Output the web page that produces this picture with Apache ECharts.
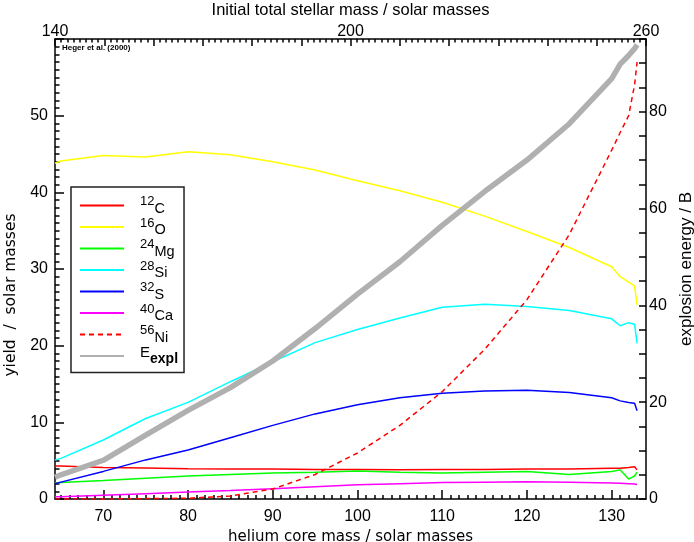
<!DOCTYPE html>
<html>
<head>
<meta charset="utf-8">
<script src="https://cdn.jsdelivr.net/npm/echarts@6/dist/echarts.min.js"></script>
<style>
html,body{margin:0;padding:0;background:#fff;}
#chart{width:694px;height:542px;}
</style>
</head>
<body>
<div id="chart"></div>
<script>
// ---- data ----
const heMass = [64.3, 65, 70, 75, 80, 85, 90, 95, 100, 105, 110, 115, 120, 125, 130, 131, 132, 132.7, 133];
const c12  = [4.3, 4.3, 4.1, 4.05, 3.95, 3.9, 3.9, 3.85, 3.85, 3.8, 3.85, 3.85, 3.9, 3.9, 4.0, 4.0, 4.1, 4.2, 3.8];
const o16  = [43.8, 44.1, 44.8, 44.6, 45.3, 44.9, 44.0, 42.9, 41.5, 40.2, 38.7, 36.9, 34.9, 32.8, 30.3, 29.0, 28.3, 27.8, 25.3];
const mg24 = [2.1, 2.15, 2.4, 2.7, 3.0, 3.2, 3.4, 3.5, 3.65, 3.5, 3.4, 3.5, 3.6, 3.2, 3.6, 3.8, 2.6, 3.0, 3.5];
const si28 = [5.1, 5.3, 7.7, 10.5, 12.6, 15.3, 17.9, 20.4, 22.1, 23.6, 25.0, 25.4, 25.1, 24.6, 23.5, 22.6, 23.0, 22.8, 20.3];
const s32  = [2.0, 2.2, 3.6, 5.1, 6.4, 8.0, 9.6, 11.1, 12.3, 13.2, 13.8, 14.1, 14.2, 13.9, 13.2, 12.8, 12.6, 12.5, 11.5];
const ca40 = [0.3, 0.3, 0.5, 0.7, 0.9, 1.1, 1.35, 1.6, 1.85, 2.0, 2.15, 2.2, 2.25, 2.2, 2.1, 2.05, 2.0, 1.95, 1.9];
const ni56 = [0, 0, 0, 0.05, 0.1, 0.4, 1.3, 3.2, 6.0, 9.6, 14.0, 19.5, 26.0, 34.5, 45.5, 47.8, 50.0, 54.0, 57.0];
const eExpl = [4.5, 5.0, 8.0, 13.2, 18.3, 23.0, 28.5, 35.2, 42.3, 49.0, 56.5, 63.5, 70.0, 77.5, 86.8, 89.8, 91.6, 93.0, 93.8];

const xMin = 64.3, xMax = 134.05;
const xMajor = [70, 80, 90, 100, 110, 120, 130];
const xMinor = [];
for (let v = 65; v <= 133; v++) { if (v % 10 !== 0) xMinor.push(v); }
const topLabels = [140, 200, 260];
const leftLabels = [0, 10, 20, 30, 40, 50];
const rightLabels = [0, 20, 40, 60, 80];

const legendSup = {'12C':['12','C'],'16O':['16','O'],'24Mg':['24','Mg'],'28Si':['28','Si'],'32S':['32','S'],'40Ca':['40','Ca'],'56Ni':['56','Ni']};

const FONT = 'Liberation Sans';
const ROUND = 'DejaVu Sans';
const blk = {color:'#000', width:1.5};

function pairs(arr){ return heMass.map((x,i)=>[x, arr[i]]); }
function mkLine(name, arr, color, opts){
  opts = opts || {};
  return {
    name: name, type:'line', xAxisIndex:0, yAxisIndex: opts.y || 0,
    data: pairs(arr), symbol:'none', showSymbol:false, animation:false,
    lineStyle:{color:color, width: opts.w || 1.5, type: opts.dash || 'solid'},
    itemStyle:{color:color}, z: opts.z || 2
  };
}

const chart = echarts.init(document.getElementById('chart'), null, {renderer:'canvas'});
chart.setOption({
  animation:false,
  backgroundColor:'#fff',
  textStyle:{fontFamily:FONT},
  grid:{left:55, right:48, top:39, bottom:43, containLabel:false, outerBoundsMode:'none'},
  legend:{
    orient:'vertical', left:71, top:187,
    backgroundColor:'#fff', borderColor:'#222', borderWidth:1.5,
    padding:[8,6,6,8], itemWidth:44, itemHeight:14, itemGap:0.5,
    itemStyle:{opacity:0},
    data:['12C','16O','24Mg','28Si','32S','40Ca','56Ni','E_expl'],
    formatter:function(name){
      if (name === 'E_expl') return '{sp|}{E|E}{sub|expl}';
      const p = legendSup[name];
      return '{sp|}{sup|' + p[0] + '}{el|' + p[1] + '}';
    },
    textStyle:{
      fontFamily:FONT, color:'#000',
      rich:{
        sp:{width:11, height:21},
        sup:{fontSize:13, fontFamily:FONT, color:'#000', verticalAlign:'top', lineHeight:13, padding:[0,0,8,0]},
        el:{fontSize:14.5, fontFamily:FONT, color:'#000', verticalAlign:'bottom', lineHeight:15, padding:[6,0,0,0]},
        E:{fontSize:15, fontFamily:FONT, color:'#000', verticalAlign:'top', lineHeight:15, padding:[0,0,6,0]},
        sub:{fontSize:14, fontFamily:FONT, color:'#000', fontWeight:'bold', verticalAlign:'bottom', lineHeight:14, padding:[7,0,0,0]}
      }
    }
  },
  xAxis:[
    {
      type:'value', position:'bottom', min:xMin, max:xMax,
      axisLine:{lineStyle:blk},
      axisTick:{inside:true, length:9, customValues:xMajor, lineStyle:blk},
      axisLabel:{customValues:xMajor, margin:10, fontSize:16, color:'#000', fontFamily:FONT,
        formatter:function(v){ return (Math.abs(v % 10) < 1e-6) ? String(v) : ''; }},
      splitLine:{show:false},
      name:'helium core mass / solar masses', nameLocation:'middle', nameGap:27,
      nameTextStyle:{fontSize:15, color:'#000', fontFamily:ROUND}
    },
    {
      type:'value', position:'bottom', min:xMin, max:xMax,
      axisLine:{show:false},
      axisTick:{inside:true, length:4, customValues:xMinor, lineStyle:blk},
      axisLabel:{show:false}, splitLine:{show:false}
    },
    {
      type:'value', position:'top', min:140, max:260, interval:10,
      axisLine:{lineStyle:blk},
      axisTick:{inside:true, length:7, lineStyle:blk},
      minorTick:{show:true, splitNumber:8, length:3.5, lineStyle:blk},
      axisLabel:{margin:-1, fontSize:16, color:'#000', fontFamily:FONT, showMinLabel:true, showMaxLabel:true,
        formatter:function(v){ return topLabels.indexOf(v) >= 0 ? String(v) : ''; }},
      splitLine:{show:false},
      name:'Initial total stellar mass / solar masses', nameLocation:'middle', nameGap:12,
      nameTextStyle:{fontSize:16.5, color:'#000', fontFamily:FONT}
    }
  ],
  yAxis:[
    {
      type:'value', position:'left', min:0, max:60, interval:10,
      axisLine:{lineStyle:blk},
      axisTick:{inside:true, length:9, lineStyle:blk},
      minorTick:{show:true, splitNumber:10, length:4.5, lineStyle:blk},
      axisLabel:{margin:7, fontSize:16, color:'#000', fontFamily:FONT,
        formatter:function(v){ return leftLabels.indexOf(v) >= 0 ? String(v) : ''; }},
      splitLine:{show:false},
      name:'yield  /  solar masses', nameLocation:'middle', nameGap:22, nameRotate:90,
      nameTextStyle:{fontSize:15.5, color:'#000', fontFamily:ROUND, padding:[0,52,0,0]}
    },
    {
      type:'value', position:'right', min:0, max:95, interval:5,
      axisLine:{lineStyle:blk},
      axisTick:{inside:true, length:7, lineStyle:blk},
      axisLabel:{margin:3, fontSize:16, color:'#000', fontFamily:FONT,
        formatter:function(v){ return rightLabels.indexOf(v) >= 0 ? String(v) : ''; }},
      splitLine:{show:false},
      name:'explosion energy / B', nameLocation:'middle', nameGap:29, nameRotate:90,
      nameTextStyle:{fontSize:17, color:'#000', fontFamily:FONT}
    }
  ],
  graphic:[
    {type:'text', x:62, y:48, style:{text:'Heger et al. (2000)', font:'bold 8px ' + FONT, fill:'#000', verticalAlign:'middle'}}
  ],
  series:[
    mkLine('12C', c12, '#ff0000'),
    mkLine('16O', o16, '#ffff00'),
    mkLine('24Mg', mg24, '#00ff00'),
    mkLine('28Si', si28, '#00ffff'),
    mkLine('32S', s32, '#0000ff'),
    mkLine('40Ca', ca40, '#ff00ff'),
    mkLine('56Ni', ni56, '#ff0000', {dash:[5,4]}),
    mkLine('E_expl', eExpl, '#b0b0b0', {y:1, w:5.5, z:3})
  ]
});
</script>
</body>
</html>
